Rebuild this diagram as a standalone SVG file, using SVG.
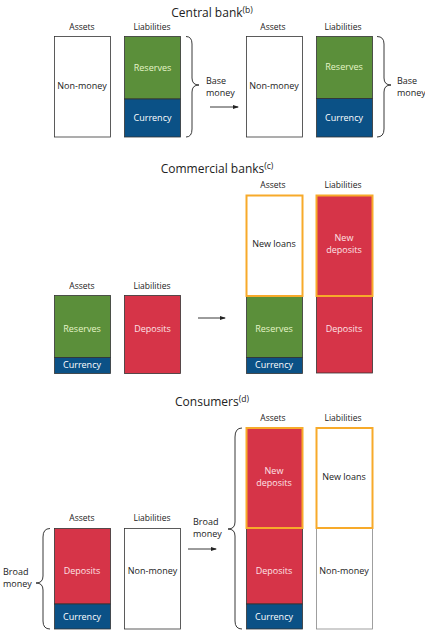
<svg xmlns="http://www.w3.org/2000/svg" width="425" height="639" viewBox="0 0 425 639">
<defs>
<style>
text{font-family:"Open Sans","Noto Sans","Liberation Sans",sans-serif;fill:#222;}
.t{font-size:12px;text-anchor:middle;}
.h{font-size:8.5px;text-anchor:middle;}
.l{font-size:9px;text-anchor:middle;}
.s{font-size:9px;}
.lg{fill:#e6f5c9;}
.lp{fill:#fde3e7;}
.lw{fill:#ffffff;}
.box{stroke:#333;stroke-width:0.8;}
.w{fill:#fff;}
.g{fill:#5b8f3a;}
.b{fill:#0b5186;}
.r{fill:#d63448;}
.o{fill:none;stroke:#f7aa2a;stroke-width:2;}
.br{fill:none;stroke:#222;stroke-width:0.9;}
.ar{stroke:#222;stroke-width:0.9;fill:none;}
</style>
<marker id="ah" markerWidth="6" markerHeight="6" refX="5" refY="3" orient="auto" markerUnits="userSpaceOnUse">
<path d="M0,1 L6,3 L0,5 z" fill="#222"/>
</marker>
</defs>
<rect width="425" height="639" fill="#fff"/>

<!-- Titles -->
<text class="t" x="212" y="17">Central bank<tspan font-size="8.5" dy="-4">(b)</tspan></text>
<text class="t" x="217" y="173">Commercial banks<tspan font-size="8.5" dy="-4">(c)</tspan></text>
<text class="t" x="212" y="406">Consumers<tspan font-size="8.5" dy="-4">(d)</tspan></text>

<!-- Central bank, before -->
<g id="cb1">
<text class="h" x="82" y="30">Assets</text>
<text class="h" x="152" y="30">Liabilities</text>
<rect class="box w" x="54.5" y="36.5" width="56" height="100.5"/>
<text class="l" x="82" y="89">Non-money</text>
<rect class="box g" x="124.5" y="36.5" width="56" height="62.5"/>
<text class="l lg" x="152.5" y="71">Reserves</text>
<rect class="box b" x="124.5" y="99" width="56" height="38"/>
<text class="l lw" x="152.5" y="121">Currency</text>
</g>
<!-- Central bank, after -->
<g id="cb2">
<text class="h" x="273" y="30">Assets</text>
<text class="h" x="343" y="30">Liabilities</text>
<rect class="box w" x="246.5" y="36.5" width="56" height="100.5"/>
<text class="l" x="274" y="89">Non-money</text>
<rect class="box g" x="316.5" y="36.5" width="56" height="62"/>
<text class="l lg" x="344" y="70">Reserves</text>
<rect class="box b" x="316.5" y="98.5" width="56" height="38.5"/>
<text class="l lw" x="344" y="121">Currency</text>
</g>

<!-- Commercial banks, before -->
<g id="cm1">
<text class="h" x="82" y="289">Assets</text>
<text class="h" x="152" y="289">Liabilities</text>
<rect class="box g" x="54.5" y="295.5" width="56" height="62"/>
<text class="l lg" x="82" y="332">Reserves</text>
<rect class="box b" x="54.5" y="357.5" width="56" height="16"/>
<text class="l lw" x="82" y="367.5">Currency</text>
<rect class="box r" x="124.5" y="295.5" width="56" height="78"/>
<text class="l lp" x="152.5" y="332">Deposits</text>
</g>
<!-- Commercial banks, after -->
<g id="cm2">
<text class="h" x="273" y="188">Assets</text>
<text class="h" x="343" y="188">Liabilities</text>
<rect class="box g" x="246.5" y="296" width="56" height="61.5"/>
<text class="l lg" x="274" y="332">Reserves</text>
<rect class="box b" x="246.5" y="357.5" width="56" height="16"/>
<text class="l lw" x="274" y="367.5">Currency</text>
<rect class="w" x="246.5" y="195.5" width="56" height="100.5"/>
<rect class="o" x="246.5" y="195.5" width="56" height="100.5"/>
<text class="l" x="274" y="247">New loans</text>
<rect class="box r" x="316.5" y="296" width="56" height="77"/>
<text class="l lp" x="344" y="332">Deposits</text>
<rect class="r" x="316.5" y="195.5" width="56" height="100.5"/>
<rect class="o" x="316.5" y="195.5" width="56" height="100.5"/>
<text class="l lp" x="344" y="241">New</text>
<text class="l lp" x="344" y="253">deposits</text>
</g>

<!-- Consumers, before -->
<g id="cs1">
<text class="h" x="82" y="521">Assets</text>
<text class="h" x="152" y="521">Liabilities</text>
<rect class="box r" x="54.5" y="528.5" width="56" height="75.5"/>
<text class="l lp" x="82" y="574">Deposits</text>
<rect class="box b" x="54.5" y="604" width="56" height="25"/>
<text class="l lw" x="82" y="619.5">Currency</text>
<rect class="box w" x="124.5" y="528.5" width="56" height="100.5"/>
<text class="l" x="152.5" y="574">Non-money</text>
</g>
<!-- Consumers, after -->
<g id="cs2">
<text class="h" x="273" y="421">Assets</text>
<text class="h" x="343" y="421">Liabilities</text>
<rect class="box r" x="246.5" y="528" width="56" height="76"/>
<text class="l lp" x="274" y="574">Deposits</text>
<rect class="box b" x="246.5" y="604" width="56" height="25"/>
<text class="l lw" x="274" y="620">Currency</text>
<rect class="r" x="246.5" y="428" width="56" height="100"/>
<rect class="o" x="246.5" y="428" width="56" height="100"/>
<text class="l lp" x="274" y="474">New</text>
<text class="l lp" x="274" y="486">deposits</text>
<rect class="w" x="316.5" y="528" width="56" height="101" stroke="#888" stroke-width="0.8"/>
<text class="l" x="344" y="574">Non-money</text>
<rect class="w" x="316.5" y="428" width="56" height="100"/>
<rect class="o" x="316.5" y="428" width="56" height="100"/>
<text class="l" x="344" y="480">New loans</text>
</g>

<!-- Braces and labels -->
<g id="braces">
<path class="br" d="M186,36.5 Q192,36.5 192,44 L192,78 Q192,85 199,85 Q192,85 192,92 L192,129 Q192,137 186,137"/>
<text class="s" x="206" y="84">Base</text>
<text class="s" x="206" y="96">money</text>
<path class="br" d="M377,36.5 Q384,36.5 384,44 L384,78 Q384,85 391,85 Q384,85 384,92 L384,129 Q384,137 377,137"/>
<text class="s" x="397" y="84">Base</text>
<text class="s" x="397" y="96">money</text>
<path class="br" d="M50,528.5 Q43,528.5 43,537 L43,576 Q43,583 36,583 Q43,583 43,590 L43,621 Q43,629 50,629"/>
<text class="s" x="3" y="575">Broad</text>
<text class="s" x="3" y="587">money</text>
<path class="br" d="M242,428 Q235,428 235,437 L235,522 Q235,529 228,529 Q235,529 235,536 L235,621 Q235,629 242,629"/>
<text class="s" x="193" y="525">Broad</text>
<text class="s" x="193" y="537">money</text>
</g>

<!-- Connectors -->
<g id="connectors">
<line class="ar" x1="210" y1="107" x2="238" y2="107" marker-end="url(#ah)"/>
<line class="ar" x1="198" y1="318" x2="225" y2="318" marker-end="url(#ah)"/>
<line class="ar" x1="188" y1="549" x2="216" y2="549" marker-end="url(#ah)"/>
</g>
</svg>
